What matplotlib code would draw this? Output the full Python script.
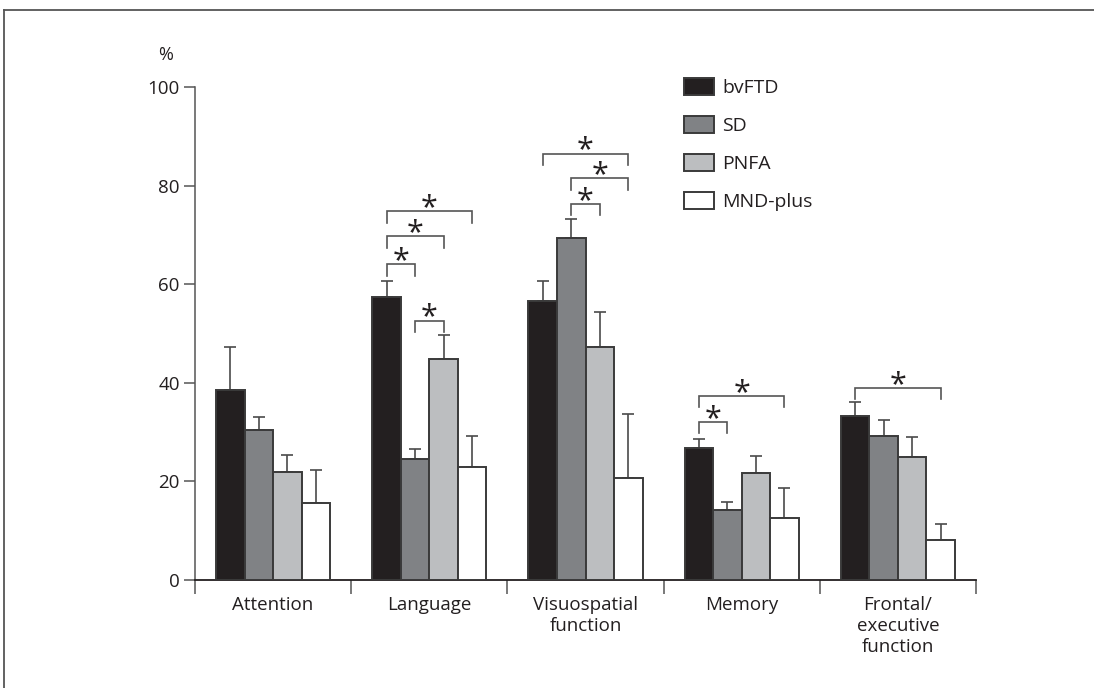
import matplotlib
matplotlib.use("Agg")
import matplotlib.pyplot as plt
import numpy as np
from matplotlib.patches import Patch
from matplotlib.lines import Line2D

plt.rcParams['font.family'] = ['Open Sans', 'DejaVu Sans']

categories = ["Attention", "Language", "Visuospatial\nfunction", "Memory", "Frontal/\nexecutive\nfunction"]
groups = ["bvFTD", "SD", "PNFA", "MND-plus"]
colors = ["#231f20", "#808285", "#bcbec0", "#ffffff"]

bvftd = [38.5, 57.5, 56.6, 26.8, 33.3]
sd = [30.5, 24.6, 69.3, 14.2, 29.3]
pnfa = [22.0, 44.9, 47.3, 21.8, 24.9]
mnd = [15.6, 22.9, 20.6, 12.6, 8.2]

bvftd_err = [47.2, 60.6, 60.6, 28.7, 36.1]
sd_err = [33.1, 26.6, 73.2, 15.9, 32.4]
pnfa_err = [25.3, 49.6, 54.4, 25.2, 29.1]
mnd_err = [22.4, 29.3, 33.6, 18.6, 11.4]

# significance brackets: (category index, bar a, bar b, bracket height)
brackets = [
    (1, 0, 1, 64.0), (1, 0, 2, 69.7), (1, 0, 3, 74.8), (1, 1, 2, 52.6),
    (2, 1, 2, 76.3), (2, 1, 3, 81.5), (2, 0, 3, 86.5),
    (3, 0, 1, 32.1), (3, 0, 3, 37.3),
    (4, 0, 3, 39.0),
]

values = [bvftd, sd, pnfa, mnd]
errtops = [bvftd_err, sd_err, pnfa_err, mnd_err]

fig = plt.figure(figsize=(10.94, 6.88), dpi=100)
ax = fig.add_axes([195/1094, 1-580/688, (976-195)/1094, (580-87)/688])

x = np.arange(len(categories))
w = 0.1825
edge = "#3a3a3a"
for i, (vals, tops) in enumerate(zip(values, errtops)):
    pos = x + (i - 1.5) * w
    ax.bar(pos, vals, width=w, color=colors[i], edgecolor=edge, linewidth=1.4, zorder=3)
    lower = np.zeros(len(vals))
    upper = np.array(tops) - np.array(vals)
    ax.errorbar(pos, vals, yerr=[lower, upper], fmt='none', ecolor="#4a4a4a",
                elinewidth=1.2, capsize=4, capthick=1.2, zorder=2)

bcol = "#555555"
for (c, a, b, h) in brackets:
    xa = c + (a - 1.5) * w
    xb = c + (b - 1.5) * w
    ax.plot([xa, xa, xb, xb], [h - 2.3, h, h, h - 2.3], color=bcol, lw=1.2,
            solid_joinstyle='miter', zorder=4, clip_on=False)
    ax.text((xa + xb) / 2, h - 1.0, "*", ha='center', va='baseline', fontsize=22,
            color="#231f20", zorder=5)

ax.set_xlim(-0.5, 4.5)
ax.set_ylim(0, 100)
ax.set_yticks([0, 20, 40, 60, 80, 100])
ax.set_yticklabels(["0", "20", "40", "60", "80", "100"], fontsize=13.5)
ax.tick_params(axis='y', length=8, width=1.1, color="#555555", pad=3, labelcolor="#231f20")

ax.set_xticks(np.arange(-0.5, 5.0, 1.0))
ax.set_xticklabels([])
ax.tick_params(axis='x', length=10, width=1.1, color="#555555")
for i, lab in enumerate(categories):
    ax.text(i, -3.3, lab, ha='center', va='top', fontsize=13.5, color="#231f20",
            linespacing=1.2)

for s in ['top', 'right']:
    ax.spines[s].set_visible(False)
ax.spines['left'].set_color("#555555")
ax.spines['bottom'].set_color("#231f20")
ax.spines['left'].set_linewidth(1.1)
ax.spines['bottom'].set_linewidth(1.3)

fig.text(158/1094, 1-55/688, "%", fontsize=13, ha='left', va='center', color="#231f20")

# legend
handles = [Patch(facecolor=colors[i], edgecolor=edge, linewidth=1.4, label=groups[i]) for i in range(4)]
leg = fig.legend(handles=handles, loc='upper left', bbox_to_anchor=(684/1094, 1-78/688),
                 frameon=False, fontsize=14, handlelength=1.55, handleheight=1.0,
                 labelspacing=0.95, handletextpad=0.4, borderpad=0, borderaxespad=0)
for t in leg.get_texts():
    t.set_color("#231f20")

# outer frame (top and left edges)
fig.add_artist(Line2D([4/1094, 4/1094], [0, 1-10/688], transform=fig.transFigure, color="#555555", lw=1.3))
fig.add_artist(Line2D([4/1094, 1], [1-10/688, 1-10/688], transform=fig.transFigure, color="#555555", lw=1.3))

fig.savefig("out.png", dpi=100)
